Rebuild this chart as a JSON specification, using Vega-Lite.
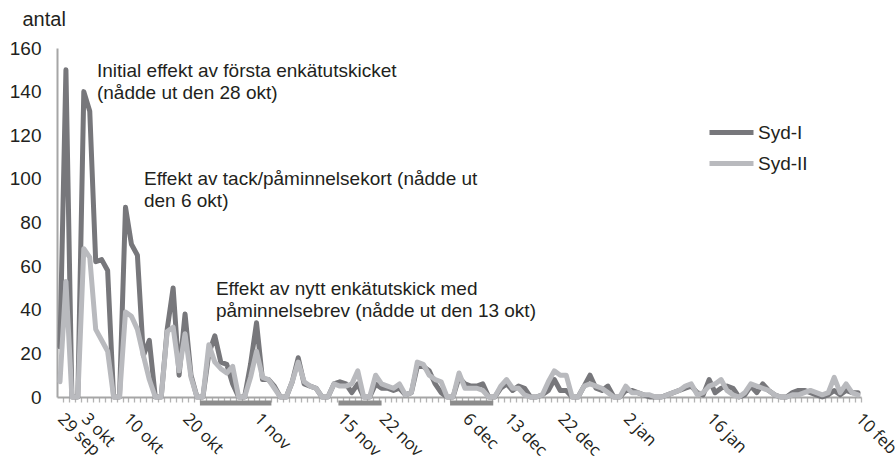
{
  "$schema": "https://vega.github.io/schema/vega-lite/v6.json",
  "autosize": {"type": "none"},
  "padding": {"left": 57, "top": 48, "right": 34, "bottom": 70},
  "width": 804,
  "height": 349,
  "background": "white",
  "config": {"view": {"stroke": null}, "font": "Liberation Sans"},
  "datasets": {
    "serier": [
      {"datum":"2011-09-29","Syd-I":23,"Syd-II":7},
      {"datum":"2011-09-30","Syd-I":150,"Syd-II":53},
      {"datum":"2011-10-01","Syd-I":0,"Syd-II":0},
      {"datum":"2011-10-02","Syd-I":0,"Syd-II":0},
      {"datum":"2011-10-03","Syd-I":140,"Syd-II":68},
      {"datum":"2011-10-04","Syd-I":131,"Syd-II":64},
      {"datum":"2011-10-05","Syd-I":62,"Syd-II":31},
      {"datum":"2011-10-06","Syd-I":63,"Syd-II":26},
      {"datum":"2011-10-07","Syd-I":58,"Syd-II":21},
      {"datum":"2011-10-08","Syd-I":0,"Syd-II":0},
      {"datum":"2011-10-09","Syd-I":0,"Syd-II":0},
      {"datum":"2011-10-10","Syd-I":87,"Syd-II":39},
      {"datum":"2011-10-11","Syd-I":70,"Syd-II":37},
      {"datum":"2011-10-12","Syd-I":65,"Syd-II":31},
      {"datum":"2011-10-13","Syd-I":19,"Syd-II":19},
      {"datum":"2011-10-14","Syd-I":26,"Syd-II":8},
      {"datum":"2011-10-15","Syd-I":0,"Syd-II":0},
      {"datum":"2011-10-16","Syd-I":0,"Syd-II":0},
      {"datum":"2011-10-17","Syd-I":31,"Syd-II":30},
      {"datum":"2011-10-18","Syd-I":50,"Syd-II":32},
      {"datum":"2011-10-19","Syd-I":10,"Syd-II":12},
      {"datum":"2011-10-20","Syd-I":38,"Syd-II":29},
      {"datum":"2011-10-21","Syd-I":10,"Syd-II":9},
      {"datum":"2011-10-22","Syd-I":0,"Syd-II":0},
      {"datum":"2011-10-23","Syd-I":0,"Syd-II":0},
      {"datum":"2011-10-24","Syd-I":20,"Syd-II":24},
      {"datum":"2011-10-25","Syd-I":28,"Syd-II":16},
      {"datum":"2011-10-26","Syd-I":16,"Syd-II":13},
      {"datum":"2011-10-27","Syd-I":15,"Syd-II":11},
      {"datum":"2011-10-28","Syd-I":6,"Syd-II":14},
      {"datum":"2011-10-29","Syd-I":0,"Syd-II":0},
      {"datum":"2011-10-30","Syd-I":0,"Syd-II":0},
      {"datum":"2011-10-31","Syd-I":15,"Syd-II":9},
      {"datum":"2011-11-01","Syd-I":34,"Syd-II":21},
      {"datum":"2011-11-02","Syd-I":8,"Syd-II":9},
      {"datum":"2011-11-03","Syd-I":8,"Syd-II":8},
      {"datum":"2011-11-04","Syd-I":5,"Syd-II":4},
      {"datum":"2011-11-05","Syd-I":0,"Syd-II":0},
      {"datum":"2011-11-06","Syd-I":0,"Syd-II":0},
      {"datum":"2011-11-07","Syd-I":7,"Syd-II":7},
      {"datum":"2011-11-08","Syd-I":18,"Syd-II":16},
      {"datum":"2011-11-09","Syd-I":6,"Syd-II":7},
      {"datum":"2011-11-10","Syd-I":5,"Syd-II":5},
      {"datum":"2011-11-11","Syd-I":4,"Syd-II":4},
      {"datum":"2011-11-12","Syd-I":0,"Syd-II":0},
      {"datum":"2011-11-13","Syd-I":0,"Syd-II":0},
      {"datum":"2011-11-14","Syd-I":6,"Syd-II":6},
      {"datum":"2011-11-15","Syd-I":7,"Syd-II":5},
      {"datum":"2011-11-16","Syd-I":6,"Syd-II":5},
      {"datum":"2011-11-17","Syd-I":2,"Syd-II":6},
      {"datum":"2011-11-18","Syd-I":6,"Syd-II":12},
      {"datum":"2011-11-19","Syd-I":0,"Syd-II":0},
      {"datum":"2011-11-20","Syd-I":0,"Syd-II":0},
      {"datum":"2011-11-21","Syd-I":6,"Syd-II":10},
      {"datum":"2011-11-22","Syd-I":4,"Syd-II":6},
      {"datum":"2011-11-23","Syd-I":4,"Syd-II":5},
      {"datum":"2011-11-24","Syd-I":3,"Syd-II":4},
      {"datum":"2011-11-25","Syd-I":4,"Syd-II":6},
      {"datum":"2011-11-26","Syd-I":1,"Syd-II":1},
      {"datum":"2011-11-27","Syd-I":2,"Syd-II":2},
      {"datum":"2011-11-28","Syd-I":14,"Syd-II":16},
      {"datum":"2011-11-29","Syd-I":14,"Syd-II":15},
      {"datum":"2011-11-30","Syd-I":12,"Syd-II":10},
      {"datum":"2011-12-01","Syd-I":6,"Syd-II":8},
      {"datum":"2011-12-02","Syd-I":2,"Syd-II":7},
      {"datum":"2011-12-03","Syd-I":0,"Syd-II":0},
      {"datum":"2011-12-04","Syd-I":0,"Syd-II":0},
      {"datum":"2011-12-05","Syd-I":9,"Syd-II":11},
      {"datum":"2011-12-06","Syd-I":6,"Syd-II":4},
      {"datum":"2011-12-07","Syd-I":5,"Syd-II":4},
      {"datum":"2011-12-08","Syd-I":5,"Syd-II":4},
      {"datum":"2011-12-09","Syd-I":6,"Syd-II":3},
      {"datum":"2011-12-10","Syd-I":0,"Syd-II":0},
      {"datum":"2011-12-11","Syd-I":0,"Syd-II":0},
      {"datum":"2011-12-12","Syd-I":4,"Syd-II":5},
      {"datum":"2011-12-13","Syd-I":6,"Syd-II":8},
      {"datum":"2011-12-14","Syd-I":3,"Syd-II":4},
      {"datum":"2011-12-15","Syd-I":5,"Syd-II":4},
      {"datum":"2011-12-16","Syd-I":4,"Syd-II":1},
      {"datum":"2011-12-17","Syd-I":0,"Syd-II":0},
      {"datum":"2011-12-18","Syd-I":0,"Syd-II":0},
      {"datum":"2011-12-19","Syd-I":1,"Syd-II":1},
      {"datum":"2011-12-20","Syd-I":3,"Syd-II":7},
      {"datum":"2011-12-21","Syd-I":8,"Syd-II":12},
      {"datum":"2011-12-22","Syd-I":3,"Syd-II":10},
      {"datum":"2011-12-23","Syd-I":3,"Syd-II":10},
      {"datum":"2011-12-24","Syd-I":0,"Syd-II":0},
      {"datum":"2011-12-25","Syd-I":0,"Syd-II":0},
      {"datum":"2011-12-26","Syd-I":5,"Syd-II":5},
      {"datum":"2011-12-27","Syd-I":10,"Syd-II":6},
      {"datum":"2011-12-28","Syd-I":4,"Syd-II":5},
      {"datum":"2011-12-29","Syd-I":3,"Syd-II":4},
      {"datum":"2011-12-30","Syd-I":5,"Syd-II":2},
      {"datum":"2011-12-31","Syd-I":0,"Syd-II":0},
      {"datum":"2012-01-01","Syd-I":0,"Syd-II":0},
      {"datum":"2012-01-02","Syd-I":3,"Syd-II":5},
      {"datum":"2012-01-03","Syd-I":3,"Syd-II":2},
      {"datum":"2012-01-04","Syd-I":2,"Syd-II":2},
      {"datum":"2012-01-05","Syd-I":1,"Syd-II":1},
      {"datum":"2012-01-06","Syd-I":0,"Syd-II":1},
      {"datum":"2012-01-07","Syd-I":0,"Syd-II":0},
      {"datum":"2012-01-08","Syd-I":0,"Syd-II":0},
      {"datum":"2012-01-09","Syd-I":1,"Syd-II":1},
      {"datum":"2012-01-10","Syd-I":2,"Syd-II":2},
      {"datum":"2012-01-11","Syd-I":3,"Syd-II":3},
      {"datum":"2012-01-12","Syd-I":4,"Syd-II":5},
      {"datum":"2012-01-13","Syd-I":5,"Syd-II":6},
      {"datum":"2012-01-14","Syd-I":2,"Syd-II":1},
      {"datum":"2012-01-15","Syd-I":1,"Syd-II":2},
      {"datum":"2012-01-16","Syd-I":8,"Syd-II":5},
      {"datum":"2012-01-17","Syd-I":2,"Syd-II":6},
      {"datum":"2012-01-18","Syd-I":4,"Syd-II":8},
      {"datum":"2012-01-19","Syd-I":5,"Syd-II":3},
      {"datum":"2012-01-20","Syd-I":4,"Syd-II":1},
      {"datum":"2012-01-21","Syd-I":0,"Syd-II":0},
      {"datum":"2012-01-22","Syd-I":1,"Syd-II":2},
      {"datum":"2012-01-23","Syd-I":5,"Syd-II":6},
      {"datum":"2012-01-24","Syd-I":2,"Syd-II":5},
      {"datum":"2012-01-25","Syd-I":6,"Syd-II":4},
      {"datum":"2012-01-26","Syd-I":3,"Syd-II":3},
      {"datum":"2012-01-27","Syd-I":1,"Syd-II":1},
      {"datum":"2012-01-28","Syd-I":0,"Syd-II":0},
      {"datum":"2012-01-29","Syd-I":0,"Syd-II":0},
      {"datum":"2012-01-30","Syd-I":2,"Syd-II":1},
      {"datum":"2012-01-31","Syd-I":3,"Syd-II":1},
      {"datum":"2012-02-01","Syd-I":3,"Syd-II":2},
      {"datum":"2012-02-02","Syd-I":2,"Syd-II":3},
      {"datum":"2012-02-03","Syd-I":1,"Syd-II":2},
      {"datum":"2012-02-04","Syd-I":0,"Syd-II":1},
      {"datum":"2012-02-05","Syd-I":1,"Syd-II":2},
      {"datum":"2012-02-06","Syd-I":3,"Syd-II":9},
      {"datum":"2012-02-07","Syd-I":1,"Syd-II":2},
      {"datum":"2012-02-08","Syd-I":3,"Syd-II":6},
      {"datum":"2012-02-09","Syd-I":2,"Syd-II":2},
      {"datum":"2012-02-10","Syd-I":2,"Syd-II":1}
    ],
    "perioder": [
      {"start":"2011-10-22T12:00:00Z","slut":"2011-11-03T12:00:00Z"},
      {"start":"2011-11-14T18:00:00Z","slut":"2011-11-22T00:00:00Z"},
      {"start":"2011-12-03T12:00:00Z","slut":"2011-12-10T18:00:00Z"}
    ],
    "kommentarer": [
      {"datum":"2011-10-05T05:00:00Z","antal":146.8,"text":"Initial effekt av första enkätutskicket\n(nådde ut den 28 okt)"},
      {"datum":"2011-10-13T02:30:00Z","antal":97.2,"text":"Effekt av tack/påminnelsekort (nådde ut\nden 6 okt)"},
      {"datum":"2011-10-25T04:30:00Z","antal":46.8,"text":"Effekt av nytt enkätutskick med\npåminnelsebrev (nådde ut den 13 okt)"}
    ]
  },
  "encoding": {
    "x": {
      "field": "datum",
      "type": "temporal",
      "scale": {
        "type": "utc",
        "domain": [
          {"year": 2011, "month": 9, "date": 28, "hours": 12, "utc": true},
          {"year": 2012, "month": 2, "date": 10, "hours": 12, "utc": true}
        ]
      },
      "axis": {
        "title": null,
        "grid": false,
        "domainColor": "#a6a6a6",
        "domainWidth": 2,
        "tickColor": "#b3b3b3",
        "tickWidth": 1.3,
        "tickSize": 5,
        "tickCount": {"interval": "day", "step": 1},
        "tickOffset": 2.98,
        "labelOffset": -2.98,
        "labelAngle": 45,
        "labelAlign": "left",
        "labelBaseline": "middle",
        "labelPadding": 14,
        "labelFont": "Open Sans",
        "labelFontSize": 17,
        "labelColor": "#231f20",
        "labelOverlap": false,
        "labelFlush": false,
        "labelBound": false,
        "labelExpr": "indexof(['9-29','10-3','10-10','10-20','11-1','11-15','11-22','12-6','12-13','12-22','1-2','1-16','2-10'], (utcmonth(datum.value)+1) + '-' + utcdate(datum.value)) >= 0 ? utcdate(datum.value) + ' ' + ['jan','feb','mar','apr','maj','jun','jul','aug','sep','okt','nov','dec'][utcmonth(datum.value)] : ''"
      }
    }
  },
  "layer": [
    {
      "data": {"name": "perioder"},
      "mark": {"type": "rule", "color": "#8c8c8c", "strokeWidth": 5, "yOffset": 6},
      "encoding": {
        "x": {"field": "start", "type": "temporal"},
        "x2": {"field": "slut"},
        "y": {"datum": 0, "type": "quantitative"}
      }
    },
    {
      "data": {"name": "serier"},
      "transform": [{"fold": ["Syd-I", "Syd-II"], "as": ["serie", "antal"]}],
      "mark": {"type": "line", "strokeWidth": 5, "strokeJoin": "round", "strokeCap": "round"},
      "encoding": {
        "y": {
          "field": "antal",
          "type": "quantitative",
          "scale": {"domain": [0, 160], "nice": false},
          "axis": {
            "values": [0, 20, 40, 60, 80, 100, 120, 140, 160],
            "grid": false,
            "ticks": false,
            "domainColor": "#a6a6a6",
            "domainWidth": 2,
            "labelPadding": 16,
            "labelFont": "Liberation Sans",
            "labelFontSize": 19,
            "labelColor": "#231f20",
            "title": "antal",
            "titleAngle": 0,
            "titleX": -35,
            "titleY": -23,
            "titleAlign": "left",
            "titleBaseline": "alphabetic",
            "titleFont": "Liberation Sans",
            "titleFontSize": 20,
            "titleFontWeight": "normal",
            "titleColor": "#231f20"
          }
        },
        "color": {
          "field": "serie",
          "type": "nominal",
          "scale": {"domain": ["Syd-I", "Syd-II"], "range": ["#77777b", "#b9babe"]},
          "legend": {
            "title": null,
            "orient": "none",
            "legendX": 661,
            "legendY": 71,
            "padding": 0,
            "symbolType": "M-2,0H2",
            "symbolSize": 484,
            "symbolStrokeWidth": 5,
            "labelOffset": 13,
            "labelFont": "Liberation Sans",
            "labelFontSize": 19,
            "labelColor": "#231f20",
            "rowPadding": 7
          }
        }
      }
    },
    {
      "data": {"name": "kommentarer"},
      "mark": {
        "type": "text",
        "align": "left",
        "baseline": "alphabetic",
        "lineBreak": "\n",
        "lineHeight": 22,
        "font": "Liberation Sans",
        "fontSize": 19,
        "color": "#231f20"
      },
      "encoding": {
        "x": {"field": "datum", "type": "temporal"},
        "y": {"field": "antal", "type": "quantitative"},
        "text": {"field": "text"}
      }
    }
  ]
}
